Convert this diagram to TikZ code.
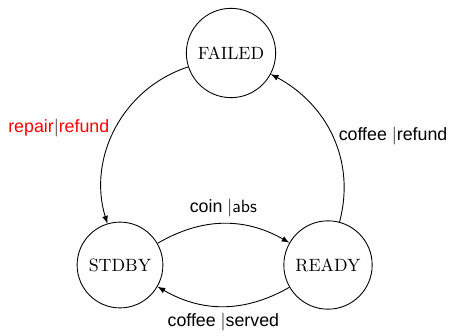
\documentclass[tikz,border=0pt]{standalone}
\usepackage{fontspec}
\newfontfamily\labelfont{Liberation Sans}

\begin{document}
\begin{tikzpicture}[x=0.5618pt, y=0.5618pt, >=latex,
    state/.style={draw, circle, inner sep=5pt, line width=0.5pt},
    trans/.style={->, line width=0.5pt},
    lbl/.style={font=\labelfont}]
    \useasboundingbox (0,0) rectangle (459,335);

    % States
    \node[state] (failed) at (231,282) {FAILED};
    \node[state] (stdby) at (120,70) {STDBY};
    \node[state] (ready) at (328,70) {READY};

    % Transitions
    \draw[trans] (failed) to[out=198, in=107] node[lbl, left, text=red] {repair{\color{black}$|$}refund} (stdby);
    \draw[trans] (ready) to[out=75, in=-28] node[lbl, right] {coffee $|$refund} (failed);
    \draw[trans] (stdby) to[bend left=30] node[lbl, above] {coin $|${\sffamily abs}} (ready);
    \draw[trans] (ready) to[bend left=30] node[lbl, below] {coffee $|$served} (stdby);
\end{tikzpicture}
\end{document}
